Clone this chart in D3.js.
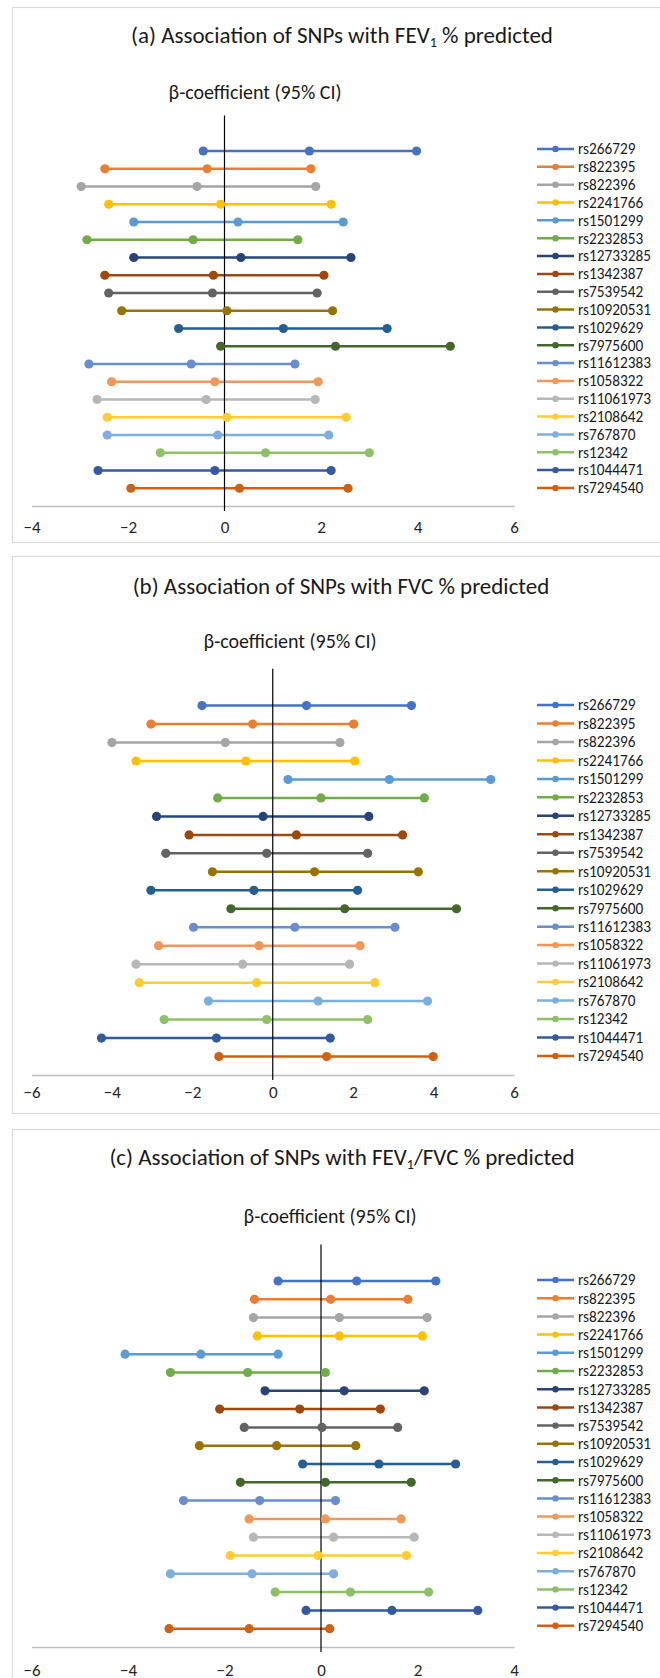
<!DOCTYPE html>
<html>
<head>
<meta charset="utf-8">
<script src="https://cdn.jsdelivr.net/npm/d3@7"></script>
<style>
  body { margin: 0; background: #fff; }
  svg { display: block; font-family: Carlito, "Open Sans", sans-serif; }
</style>
</head>
<body>
<svg id="chart" width="660" height="1678"></svg>
<script>
// SNP names, top to bottom
const snps = ["rs266729", "rs822395", "rs822396", "rs2241766", "rs1501299",
  "rs2232853", "rs12733285", "rs1342387", "rs7539542", "rs10920531",
  "rs1029629", "rs7975600", "rs11612383", "rs1058322", "rs11061973",
  "rs2108642", "rs767870", "rs12342", "rs1044471", "rs7294540"];

// (a) FEV1 % predicted
const fev1Lower = [-0.44, -2.48, -2.97, -2.40, -1.88, -2.85, -1.88, -2.48, -2.40, -2.13,
  -0.95, -0.08, -2.81, -2.34, -2.64, -2.43, -2.43, -1.33, -2.62, -1.94];
const fev1Beta = [1.76, -0.36, -0.57, -0.08, 0.28, -0.65, 0.34, -0.23, -0.25, 0.05,
  1.22, 2.30, -0.69, -0.20, -0.38, 0.05, -0.14, 0.85, -0.20, 0.31];
const fev1Upper = [3.98, 1.79, 1.89, 2.21, 2.46, 1.52, 2.62, 2.06, 1.92, 2.24,
  3.37, 4.68, 1.46, 1.94, 1.88, 2.52, 2.16, 3.00, 2.21, 2.56];
const fev1Ticks = [-4, -2, 0, 2, 4, 6];

// (b) FVC % predicted
const fvcLower = [-1.76, -3.03, -4.00, -3.40, 0.38, -1.37, -2.89, -2.08, -2.66, -1.50,
  -3.03, -1.04, -1.97, -2.84, -3.40, -3.32, -1.60, -2.70, -4.26, -1.34];
const fvcBeta = [0.84, -0.50, -1.18, -0.67, 2.90, 1.20, -0.24, 0.59, -0.15, 1.04,
  -0.47, 1.79, 0.55, -0.34, -0.75, -0.40, 1.13, -0.15, -1.40, 1.34];
const fvcUpper = [3.45, 2.01, 1.67, 2.04, 5.42, 3.77, 2.39, 3.23, 2.36, 3.62,
  2.11, 4.57, 3.04, 2.17, 1.91, 2.54, 3.85, 2.36, 1.43, 3.99];
const fvcTicks = [-6, -4, -2, 0, 2, 4, 6];

// (c) FEV1/FVC % predicted
const ratioLower = [-0.89, -1.38, -1.40, -1.32, -4.06, -3.12, -1.16, -2.10, -1.59, -2.52,
  -0.38, -1.67, -2.85, -1.49, -1.40, -1.88, -3.12, -0.95, -0.31, -3.15];
const ratioBeta = [0.74, 0.20, 0.38, 0.38, -2.49, -1.52, 0.48, -0.44, 0.02, -0.92,
  1.20, 0.09, -1.27, 0.09, 0.26, -0.06, -1.43, 0.61, 1.47, -1.49];
const ratioUpper = [2.38, 1.80, 2.20, 2.10, -0.89, 0.09, 2.14, 1.23, 1.59, 0.72,
  2.79, 1.87, 0.30, 1.66, 1.93, 1.77, 0.26, 2.23, 3.25, 0.18];
const ratioTicks = [-6, -4, -2, 0, 2, 4];

// series colours (Excel office palette)
const palette = ["#4472C4", "#ED7D31", "#A5A5A5", "#FFC000", "#5B9BD5", "#70AD47",
  "#264478", "#9E480E", "#636363", "#997300", "#255E91", "#43682B",
  "#698ED0", "#F1975A", "#B7B7B7", "#FFCD33", "#7CAFDD", "#8CC168",
  "#335AA1", "#D26012"];

const panels = [
  { title: ["(a) Association of SNPs with FEV", "1", " % predicted"], titleW: 428,
    lower: fev1Lower, beta: fev1Beta, upper: fev1Upper, ticks: fev1Ticks,
    boxTop: 7, boxBottom: 542, titleY: 43, titleX: 342, subY: 99, subX: 255,
    axisY: 506, step: 17.75, labelY: 527, legendY: 149, legendStep: 17.84 },
  { title: ["(b) Association of SNPs with FVC % predicted"], titleW: 420,
    lower: fvcLower, beta: fvcBeta, upper: fvcUpper, ticks: fvcTicks,
    boxTop: 556, boxBottom: 1113, titleY: 594, titleX: 341, subY: 648, subX: 290,
    axisY: 1075, step: 18.47, labelY: 1092, legendY: 705, legendStep: 18.47 },
  { title: ["(c) Association of SNPs with FEV", "1", "/FVC % predicted"], titleW: 469,
    lower: ratioLower, beta: ratioBeta, upper: ratioUpper, ticks: ratioTicks,
    boxTop: 1129, boxBottom: 1700, titleY: 1165, titleX: 342, subY: 1223, subX: 330,
    axisY: 1647, step: 18.3, labelY: 1670, legendY: 1280, legendStep: 18.2 }
];

// scale a text's font size so it spans the wanted width
function fitWidth(sel, target) {
  const w = sel.node().getBBox().width;
  const fs = parseFloat(sel.attr("font-size"));
  return fs * target / w;
}

const svg = d3.select("#chart");

panels.forEach(function (p) {
  const g = svg.append("g");

  g.append("rect")
    .attr("x", 12.5).attr("y", p.boxTop + 0.5)
    .attr("width", 660).attr("height", p.boxBottom - p.boxTop)
    .attr("fill", "#fff").attr("stroke", "#d9d9d9").attr("stroke-width", 1.2);

  // title
  const t = g.append("text")
    .attr("x", p.titleX).attr("y", p.titleY)
    .attr("text-anchor", "middle")
    .attr("font-size", "22px").attr("fill", "#1a1a1a");
  p.title.forEach(function (s, i) {
    const ts = t.append("tspan").text(s);
    if (i === 1) ts.attr("font-size", "14px").attr("dy", 4);
    if (i === 2) ts.attr("dy", -4);
  });
  t.attr("font-size", Math.min(23, fitWidth(t, p.titleW)) + "px");

  const sub = g.append("text")
    .attr("x", p.subX).attr("y", p.subY)
    .attr("text-anchor", "middle")
    .attr("font-size", "19px").attr("fill", "#1a1a1a")
    .text("β-coefficient (95% CI)");
  sub.attr("font-size", Math.min(21, fitWidth(sub, 173)) + "px");

  const x = d3.scaleLinear()
    .domain([p.ticks[0], p.ticks[p.ticks.length - 1]])
    .range([31.5, 514]);
  const y = d3.scaleLinear()
    .domain([0, 22])
    .range([p.axisY, p.axisY - 22 * p.step]);

  // horizontal axis
  const ax = g.append("g")
    .attr("transform", "translate(0," + p.axisY + ")")
    .call(d3.axisBottom(x).tickValues(p.ticks).tickSize(0).tickSizeOuter(0).tickPadding(0));
  ax.select(".domain").attr("stroke", "#bfbfbf").attr("stroke-width", 1.3);
  ax.selectAll("text")
    .attr("y", p.labelY - p.axisY).attr("dy", "0.35em")
    .attr("font-size", "17px").attr("fill", "#262626")
    .attr("font-family", "Carlito, 'Open Sans', sans-serif");

  const rows = snps.map(function (name, i) {
    return { name: name, i: i, lo: p.lower[i], b: p.beta[i], hi: p.upper[i], yv: 20 - i };
  });

  // CI lines
  g.selectAll(".ci").data(rows).enter().append("line")
    .attr("x1", d => x(d.lo)).attr("x2", d => x(d.hi))
    .attr("y1", d => y(d.yv)).attr("y2", d => y(d.yv))
    .attr("stroke", d => palette[d.i]).attr("stroke-width", 2.5);

  // zero line
  g.append("line")
    .attr("x1", x(0)).attr("x2", x(0))
    .attr("y1", y(0) + 5).attr("y2", y(22))
    .attr("stroke", "#000").attr("stroke-width", 1.2);

  // markers
  rows.forEach(function (d) {
    g.selectAll(null).data([d.lo, d.b, d.hi]).enter().append("circle")
      .attr("cx", v => x(v)).attr("cy", y(d.yv)).attr("r", 4.6)
      .attr("fill", palette[d.i]);
  });

  // legend
  const leg = g.selectAll(".leg").data(rows).enter().append("g")
    .attr("transform", d => "translate(537," + (p.legendY + d.i * p.legendStep) + ")");
  leg.append("line").attr("x1", 0).attr("x2", 37)
    .attr("stroke", d => palette[d.i]).attr("stroke-width", 2.5);
  leg.append("circle").attr("cx", 18.5).attr("r", 3.2)
    .attr("fill", d => palette[d.i]);
  const lt = leg.append("text").attr("x", 41).attr("dy", "0.35em")
    .attr("font-size", "15px").attr("fill", "#1a1a1a")
    .text(d => d.name);
  const ref = lt.filter(d => d.name === "rs12733285");
  const lfs = Math.min(17, fitWidth(ref, 73));
  lt.attr("font-size", lfs + "px");
});
</script>
</body>
</html>
